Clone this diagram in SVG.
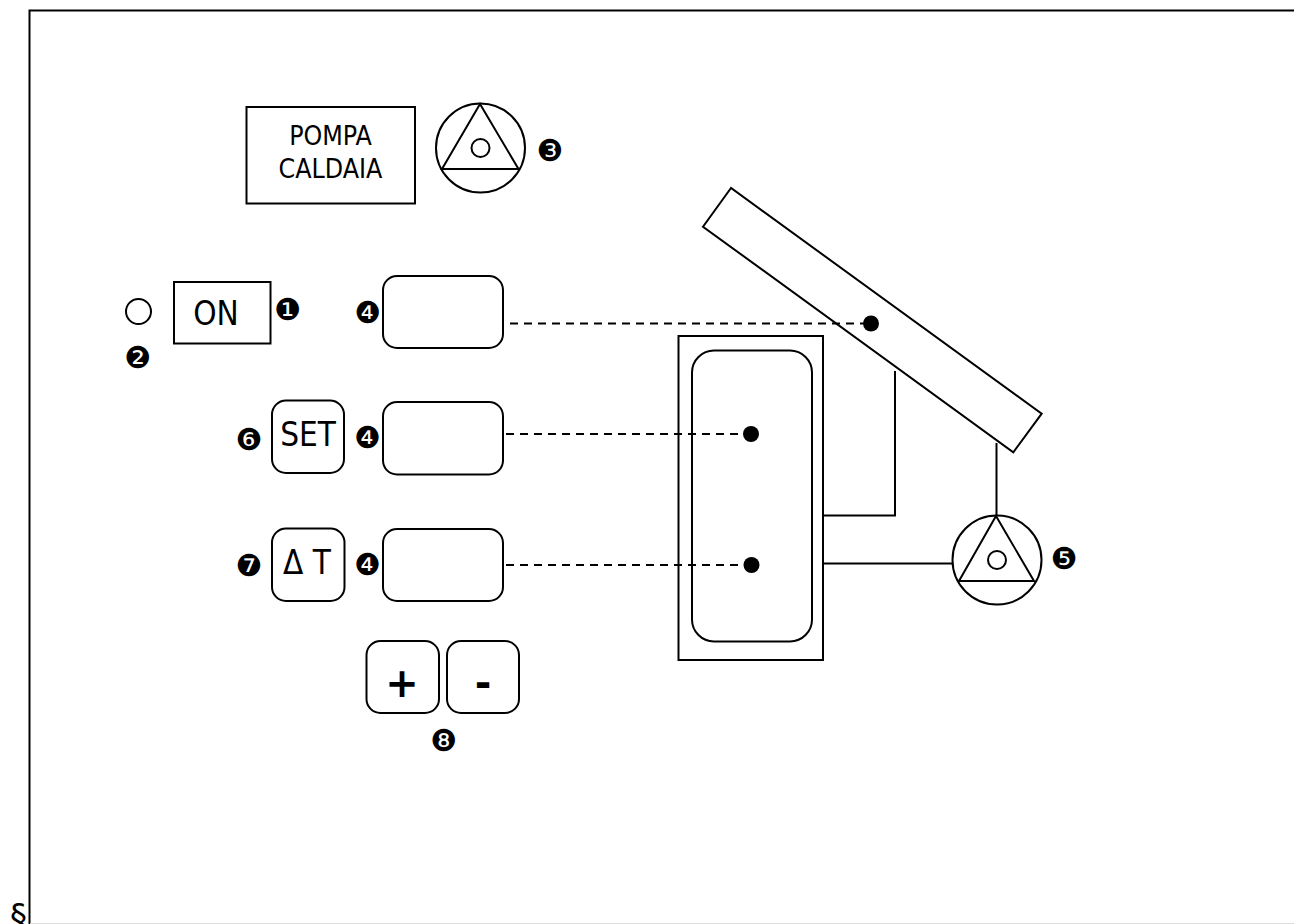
<svg xmlns="http://www.w3.org/2000/svg" width="1294" height="924" viewBox="0 0 1294 924">
<style>
.s{fill:#fff;stroke:#000;stroke-width:2}
.l{fill:none;stroke:#000;stroke-width:2}
.d{fill:none;stroke:#000;stroke-width:2;stroke-dasharray:8 6}
.t{font-family:"DejaVu Sans Condensed","DejaVu Sans",sans-serif;font-stretch:condensed;fill:#000;text-anchor:middle}
.n{font-family:"DejaVu Sans",sans-serif;font-size:30px;fill:#000;text-anchor:middle}
.b{font-family:"DejaVu Sans",sans-serif;font-weight:bold;fill:#000;text-anchor:middle}
</style>
<rect width="1294" height="924" fill="#fff"/>
<path d="M29.5 924V10.500H1294" class="l"/>
<path d="M30 923.500H1294" fill="none" stroke="#ddd" stroke-width="1"/>
<text x="18.500" y="928" font-family="DejaVu Sans, sans-serif" font-size="34" text-anchor="middle">§</text>
<g id="solar-panel"><polygon class="s" points="731,188 703,226.700 1013.300,452.300 1041.700,413.700"/></g>
<g id="connectors">
<path class="d" d="M510 323.500H871"/>
<path class="d" d="M506 434H751"/>
<path class="d" d="M506 565H751"/>
<path class="l" d="M823 515.500H895V371"/>
<path class="l" d="M823 563.500H953"/>
<path class="l" d="M996.500 443V516"/>
</g>
<g id="tank" fill="none"><rect class="l" x="678.500" y="336" width="144.500" height="324"/><rect class="l" x="692" y="350.500" width="120" height="291" rx="22"/></g>
<g id="sensor-panel"><circle cx="871" cy="323.500" r="8"/></g>
<g id="sensor-top"><circle cx="751" cy="434" r="8"/></g>
<g id="sensor-bottom"><circle cx="751.500" cy="565" r="8"/></g>
<g id="pump-solar"><circle class="s" cx="997" cy="560" r="44.500"/><polygon class="l" points="996,516 959,581 1034,581"/><circle class="s" cx="997" cy="560" r="9"/></g>
<text class="n" x="1064.300" y="569">❺</text>
<g id="pompa-box"><rect class="s" x="246.500" y="107" width="168.500" height="96.500"/><text class="t" font-size="26.500" x="330.500" y="144.500">POMPA</text><text class="t" font-size="26.500" x="330.500" y="177.500">CALDAIA</text></g>
<g id="pump-boiler"><circle class="s" cx="480.500" cy="148" r="44.500"/><polygon class="l" points="480,104 442,169 518.500,169"/><circle class="s" cx="480.500" cy="148" r="9"/></g>
<text class="n" x="550" y="161">❸</text>
<g id="led"><circle class="s" cx="138.500" cy="311.500" r="12.500"/></g>
<text class="n" x="137.700" y="368">❷</text>
<g id="on-button"><rect class="s" x="174" y="282" width="96.500" height="61.500"/><text class="t" font-size="33" x="216" y="325">ON</text></g>
<text class="n" x="287.700" y="319.500">❶</text>
<g id="display-1"><rect class="s" x="383" y="276" width="120" height="72" rx="14"/></g>
<text class="n" x="368" y="322.500">❹</text>
<g id="display-2"><rect class="s" x="383" y="402" width="120" height="72.500" rx="14"/></g>
<text class="n" x="367.700" y="447.500">❹</text>
<g id="display-3"><rect class="s" x="383" y="529" width="120" height="72" rx="14"/></g>
<text class="n" x="367.700" y="575">❹</text>
<g id="set-button"><rect class="s" x="272" y="400.500" width="72" height="72.500" rx="14"/><text class="t" font-size="33" x="308" y="446">SET</text></g>
<text class="n" x="249" y="450">❻</text>
<g id="delta-button"><rect class="s" x="272" y="528.500" width="72.500" height="72.500" rx="14"/><text class="t" font-size="33" x="307" y="574">Δ T</text></g>
<text class="n" x="249" y="575.500">❼</text>
<g id="plus-button"><rect class="s" x="366.500" y="641" width="72.500" height="72" rx="14"/><text class="b" font-size="40" x="402" y="697">+</text></g>
<g id="minus-button"><rect class="s" x="447" y="641" width="72" height="72" rx="14"/><text class="b" font-size="40" x="483" y="697">-</text></g>
<text class="n" x="443.700" y="750.500">❽</text>
</svg>
